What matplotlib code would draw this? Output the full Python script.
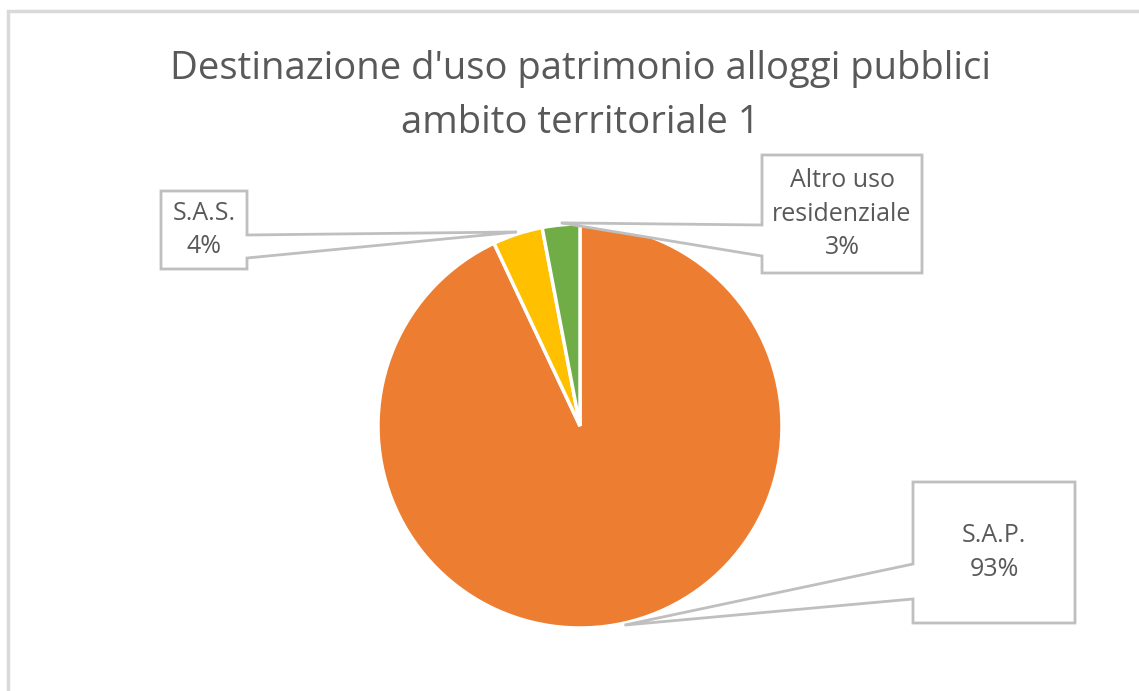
import math
import matplotlib.pyplot as plt
from matplotlib.patches import Polygon, Rectangle

# Data
categories = ['S.A.P.', 'S.A.S.', 'Altro uso\nresidenziale']
values = [93, 4, 3]
colors = ['#ED7D31', '#FFC000', '#70AD47']
title_lines = ["Destinazione d'uso patrimonio alloggi pubblici", "ambito territoriale 1"]

W, H = 1139, 691
plt.rcParams['font.family'] = ['Open Sans', 'DejaVu Sans']

fig = plt.figure(figsize=(W / 100, H / 100), dpi=100)
ax = fig.add_axes([0, 0, 1, 1])


def py(y):
    # pixel row from top -> data y
    return H - y


cx, cy, r = 580, 426, 202
wedges, _ = ax.pie(values, colors=colors, startangle=90, counterclock=False,
                   center=(cx, py(cy)), radius=r,
                   wedgeprops=dict(edgecolor='white', linewidth=2.5))
ax.set_xlim(0, W)
ax.set_ylim(0, H)
ax.set_aspect('equal')
ax.axis('off')

# chart border (only top and left visible)
ax.add_patch(Rectangle((8, py(H + 20)), W + 20, H + 9, fill=False,
                       edgecolor='#D9D9D9', linewidth=2.5, zorder=0))

# titles
ax.text(cx, py(79), title_lines[0], ha='center', va='baseline',
        fontsize=27.5, color='#595959')
ax.text(cx, py(133), title_lines[1], ha='center', va='baseline',
        fontsize=27.5, color='#595959')

# callout boxes: (x0, y0, x1, y1), side of pointer, pointer attach rows
boxes = [
    ((913, 482, 1075, 623), 'left', (564, 599)),
    ((161, 191, 247, 269), 'right', (235, 258)),
    ((762, 155, 922, 273), 'left', (225, 256)),
]

total = sum(values)
cum = 0
for cat, v, (box, side, (a, b)) in zip(categories, values, boxes):
    mid = 90 - 360 * (cum + v / 2) / total
    cum += v
    tx = cx + r * 1.01 * math.cos(math.radians(mid))
    ty = cy - r * 1.01 * math.sin(math.radians(mid))
    x0, y0, x1, y1 = box
    if side == 'left':
        pts = [(x0, y0), (x1, y0), (x1, y1), (x0, y1), (x0, b), (tx, ty), (x0, a)]
    else:
        pts = [(x0, y0), (x1, y0), (x1, a), (tx, ty), (x1, b), (x1, y1), (x0, y1)]
    pts = [(x, py(y)) for x, y in pts]
    ax.add_patch(Polygon(pts, closed=True, facecolor='white', edgecolor='#BFBFBF',
                         linewidth=2, zorder=5))
    label = f"{cat}\n{round(100 * v / total)}%"
    ax.text((x0 + x1) / 2, py((y0 + y1) / 2), label, ha='center', va='center',
            fontsize=18, color='#595959', linespacing=1.45, zorder=6)

fig.savefig('out.png', dpi=100)
